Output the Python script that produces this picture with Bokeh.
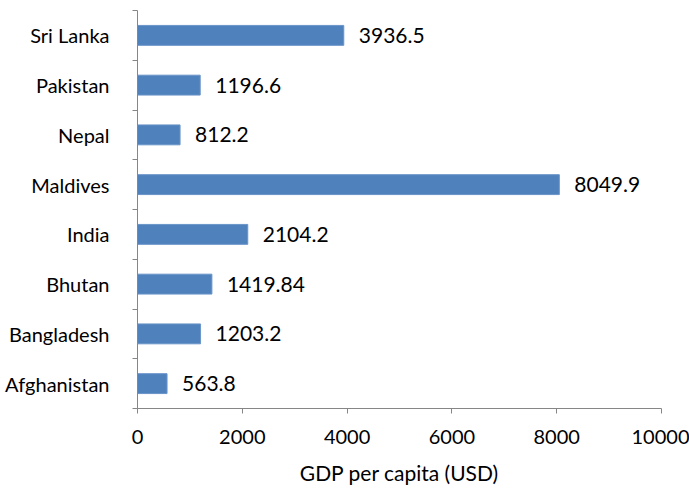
from bokeh.plotting import figure
from bokeh.models import ColumnDataSource, FixedTicker, Range1d
from bokeh.core.properties import value
from bokeh.embed import file_html
from bokeh.resources import INLINE

countries = ["Afghanistan", "Bangladesh", "Bhutan", "India", "Maldives", "Nepal", "Pakistan", "Sri Lanka"]
gdp = [563.8, 1203.2, 1419.84, 2104.2, 8049.9, 812.2, 1196.6, 3936.5]
gdp_labels = ["563.8", "1203.2", "1419.84", "2104.2", "8049.9", "812.2", "1196.6", "3936.5"]
x_ticks = [0, 2000, 4000, 6000, 8000, 10000]

pos = [i + 0.5 for i in range(len(countries))]
bounds = list(range(len(countries) + 1))

src = ColumnDataSource(dict(y=pos, gdp=gdp, lab=gdp_labels, name=countries))

FONT = "Lato"
AX = "#868686"

p = figure(frame_width=524, frame_height=398, output_backend="svg", toolbar_location=None,
           x_range=Range1d(0, 10000), y_range=Range1d(0, len(countries)),
           min_border_left=137, min_border_right=28, min_border_top=10, min_border_bottom=83)
p.outline_line_color = None
p.grid.visible = False
p.background_fill_color = "white"
p.border_fill_color = "white"

p.hbar(y="y", right="gdp", left=0, height=0.4, source=src,
       fill_color="#4F81BD", line_color="#6A94C8", line_width=1)
p.text(x="gdp", y="y", text="lab", source=src, x_offset=15,
       text_baseline="middle", text_align="left", text_color="black",
       text_font=value(FONT), text_font_size="21px")

xa = p.xaxis[0]
xa.ticker = FixedTicker(ticks=x_ticks, minor_ticks=[])
xa.axis_line_color = AX
xa.major_tick_line_color = AX
xa.major_tick_out = 5
xa.major_tick_in = 0
xa.minor_tick_line_color = None
xa.major_label_text_font = FONT
xa.major_label_text_font_size = "20px"
xa.major_label_text_color = "black"
xa.major_label_standoff = 16
xa.axis_label = "GDP per capita (USD)"
xa.axis_label_text_font = FONT
xa.axis_label_text_font_size = "21px"
xa.axis_label_text_font_style = "normal"
xa.axis_label_text_color = "black"
xa.axis_label_standoff = 13

ya = p.yaxis[0]
ya.ticker = FixedTicker(ticks=pos, minor_ticks=bounds)
ya.major_label_overrides = {v: c for v, c in zip(pos, countries)}
ya.axis_line_color = AX
ya.major_tick_line_color = None
ya.major_tick_out = 0
ya.major_tick_in = 0
ya.minor_tick_line_color = AX
ya.minor_tick_out = 5
ya.minor_tick_in = 0
ya.major_label_text_font = FONT
ya.major_label_text_font_size = "20px"
ya.major_label_text_color = "black"
ya.major_label_standoff = 23

open("out.html", "w").write(file_html(p, INLINE))
